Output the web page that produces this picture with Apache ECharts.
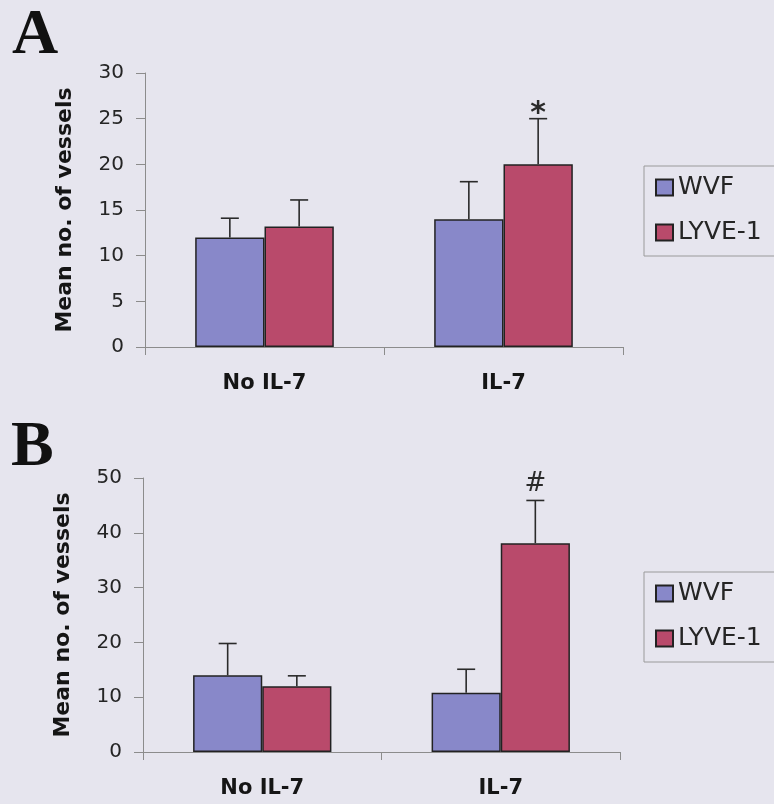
<!DOCTYPE html>
<html>
<head>
<meta charset="utf-8">
<script src="https://cdn.jsdelivr.net/npm/echarts@6/dist/echarts.min.js"></script>
<style>
html,body{margin:0;padding:0;background:#e6e5ee;}
#c{width:774px;height:804px;}
</style>
</head>
<body>
<div id="c"></div>
<script>
// ---- data ----
const categories = ['No IL-7', 'IL-7'];
const seriesNames = ['WVF', 'LYVE-1'];
// Panel A
const aWVF = [12, 14];
const aWVFErr = [2.1, 4.1];
const aLYVE = [13.2, 20];
const aLYVEErr = [2.9, 5.0];
const aMarks = ['', '*'];
const aYMax = 30, aYStep = 5;
// Panel B
const bWVF = [14, 10.8];
const bWVFErr = [5.8, 4.3];
const bLYVE = [12, 38.1];
const bLYVEErr = [1.9, 7.8];
const bMarks = ['', '#'];
const bYMax = 50, bYStep = 10;

const COL_WVF = '#8888c9';
const COL_LYVE = '#b94a6b';
const AXIS_COL = '#8c8c8c';
const BG = '#e6e5ee';

function errData(wvf, wvfErr, lyve, lyveErr, marks) {
  const d = [];
  categories.forEach((c, i) => {
    d.push({ value: [i, 0, wvf[i], wvfErr[i]], mark: '' });
    d.push({ value: [i, 1, lyve[i], lyveErr[i]], mark: marks[i] });
  });
  return d;
}

function makeRender(dataArr, markFont, markOffset) {
  return function (params, api) {
    const ci = api.value(0), si = api.value(1), v = api.value(2), e = api.value(3);
    const bw = api.size([1, 0])[0];
    const barW = bw * 0.29;
    const b = api.coord([ci, v]);
    const t = api.coord([ci, v + e]);
    const x = b[0] + (si === 0 ? -barW / 2 : barW / 2);
    const st = { stroke: '#2a2a2a', lineWidth: 1.6 };
    const children = [
      { type: 'line', shape: { x1: x, y1: b[1], x2: x, y2: t[1] }, style: st },
      { type: 'line', shape: { x1: x - 9, y1: t[1], x2: x + 9, y2: t[1] }, style: st }
    ];
    const m = dataArr[params.dataIndex].mark;
    if (m) {
      children.push({
        type: 'text',
        style: { text: m, x: x, y: t[1] - markOffset, font: markFont, fill: '#2a2a2a', textAlign: 'center', textVerticalAlign: 'bottom' }
      });
    }
    return { type: 'group', children: children };
  };
}

const aErr = errData(aWVF, aWVFErr, aLYVE, aLYVEErr, aMarks);
const bErr = errData(bWVF, bWVFErr, bLYVE, bLYVEErr, bMarks);

function xAxis(gi) {
  return {
    type: 'category', gridIndex: gi, data: categories, boundaryGap: true,
    axisLine: { lineStyle: { color: AXIS_COL, width: 1 } },
    axisTick: { show: true, length: 8, lineStyle: { color: AXIS_COL } },
    axisLabel: { margin: 26, color: '#151515', fontFamily: 'DejaVu Sans', fontWeight: 'bold', fontSize: 21 }
  };
}
function yAxis(gi, max, step) {
  return {
    type: 'value', gridIndex: gi, min: 0, max: max, interval: step,
    name: 'Mean no. of vessels', nameLocation: 'middle', nameGap: 69, nameRotate: 90,
    nameTextStyle: { fontFamily: 'DejaVu Sans', fontWeight: 'bold', fontSize: 22, color: '#151515' },
    axisLine: { show: true, lineStyle: { color: AXIS_COL, width: 1 } },
    axisTick: { show: true, length: 9, lineStyle: { color: AXIS_COL } },
    splitLine: { show: false },
    axisLabel: { margin: 21, color: '#252525', fontFamily: 'DejaVu Sans', fontSize: 20 }
  };
}
function legend(top) {
  return {
    data: seriesNames, orient: 'vertical', left: 644, top: top,
    padding: [9, 40, 11, 11], itemGap: 20, itemWidth: 17, itemHeight: 16,
    borderColor: '#9a9a9a', borderWidth: 1, backgroundColor: BG,
    icon: 'rect', selectedMode: false,
    textStyle: { fontFamily: 'DejaVu Sans', fontSize: 25, color: '#252525', lineHeight: 24 }
  };
}
function bar(name, gi, data, color) {
  return {
    type: 'bar', name: name, xAxisIndex: gi, yAxisIndex: gi, data: data,
    barGap: '0%', barCategoryGap: '42%',
    itemStyle: { color: color, borderColor: '#222', borderWidth: 1.5 },
    emphasis: { disabled: true }, animation: false
  };
}

const option = {
  backgroundColor: BG,
  animation: false,
  grid: [
    { left: 145, top: 73, width: 478, height: 274 },
    { left: 143, top: 478, width: 477, height: 274 }
  ],
  xAxis: [xAxis(0), xAxis(1)],
  yAxis: [yAxis(0, aYMax, aYStep), yAxis(1, bYMax, bYStep)],
  legend: [legend(166), legend(572)],
  graphic: [
    { type: 'text', left: 12, top: 4, style: { text: 'A', font: 'bold 64px "Liberation Serif"', fill: '#111' } },
    { type: 'text', left: 11, top: 416, style: { text: 'B', font: 'bold 64px "Liberation Serif"', fill: '#111' } }
  ],
  series: [
    bar(seriesNames[0], 0, aWVF, COL_WVF),
    bar(seriesNames[1], 0, aLYVE, COL_LYVE),
    bar(seriesNames[0], 1, bWVF, COL_WVF),
    bar(seriesNames[1], 1, bLYVE, COL_LYVE),
    { type: 'custom', xAxisIndex: 0, yAxisIndex: 0, data: aErr, encode: { x: 0, y: 2 },
      renderItem: makeRender(aErr, 'bold 30px "DejaVu Sans"', -11), z: 5, silent: true },
    { type: 'custom', xAxisIndex: 1, yAxisIndex: 1, data: bErr, encode: { x: 0, y: 2 },
      renderItem: makeRender(bErr, '26px "DejaVu Sans"', 3), z: 5, silent: true }
  ]
};

const chart = echarts.init(document.getElementById('c'), null, { renderer: 'canvas' });
chart.setOption(option);
</script>
</body>
</html>
